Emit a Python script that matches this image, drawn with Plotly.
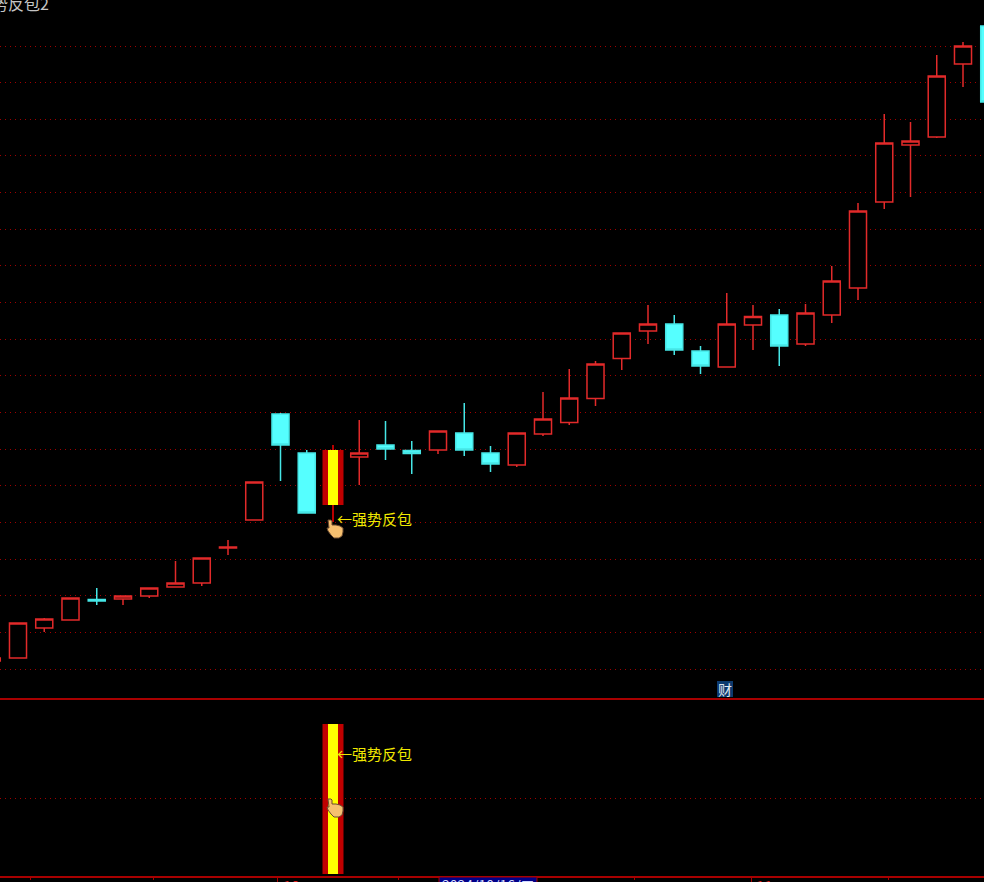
import plotly.graph_objects as go

dates = ["2024-09-12","2024-09-13","2024-09-18","2024-09-19","2024-09-20","2024-09-23","2024-09-24","2024-09-25","2024-09-26","2024-09-27","2024-09-30",
         "2024-10-08","2024-10-09","2024-10-10","2024-10-11","2024-10-14","2024-10-15","2024-10-16","2024-10-17","2024-10-18",
         "2024-10-21","2024-10-22","2024-10-23","2024-10-24","2024-10-25","2024-10-28","2024-10-29","2024-10-30","2024-10-31",
         "2024-11-01","2024-11-04","2024-11-05","2024-11-06","2024-11-07","2024-11-08","2024-11-11","2024-11-12","2024-11-13","2024-11-14"]
open_ = [39,42,72,80,100.5,101,104,113,117,152,180,286,247,None,243,255,249.5,250,267,247,235,266,277.5,301.5,341.5,369,376,349,333,375,385,356,385,412,498,555,563,636,674]
high = [42,77,82,102,112,104,112,139,142,160,218,287,250,None,280,279,259,269,297,254,267,308,331,339,367,395,385,354,407,395,391,396,434,497,586,578,645,658,674]
low = [39,42,68,80,95,95,102,113,114,145,180,219,187,None,215,240,226,246,244,228,233,264,275,294,330,356,345,326,333,350,334,354,377,400,491,503,562,613,598]
close = [42,77,81,102,99,104,112,117,142,153,218,255,187,None,247,251,246.5,269,250,236,267,281,302,336,367,376,350,334,376,383.5,354,387,419,489,557,559,624,654,598]

signal_index = [13]
signal_body_low = [195]
signal_body_high = [250]
signal_wick_low = [178]
signal_wick_high = [255]
lower_signal_low = [2]
lower_signal_high = [152]

main_grid = [654,617.4,580.7,544.1,507.4,470.8,434.1,397.5,360.8,324.2,287.5,250.9,214.2,177.6,141,104.3,67.7,31]
lower_grid = [78]
minor_ticks = [1.457,6.18,15.48,24.47,34.18]
month_ticks = [10.9,28.96]
month_labels = ["10","11"]

RED = "#e22a2a"
DARK = "#a80808"
CYAN = "#55ffff"
YELLOW = "#ffff00"
GRID = dict(gridcolor="#a00000", griddash="1px,4px", gridwidth=1)
x = list(range(len(dates)))

fig = go.Figure()
fig.add_trace(go.Bar(x=signal_index, y=[signal_wick_high[0]-signal_wick_low[0]], base=signal_wick_low, width=0.07, marker=dict(color="#b80000", line_width=0), yaxis="y"))
fig.add_trace(go.Bar(x=signal_index, y=[signal_body_high[0]-signal_body_low[0]], base=signal_body_low, width=0.8, marker=dict(color="#c00000", line_width=0), yaxis="y"))
fig.add_trace(go.Bar(x=signal_index, y=[signal_body_high[0]-signal_body_low[0]], base=signal_body_low, width=0.38, marker=dict(color=YELLOW, line_width=0), yaxis="y"))
fig.add_trace(go.Bar(x=signal_index, y=[lower_signal_high[0]-lower_signal_low[0]], base=lower_signal_low, width=0.8, marker=dict(color="#c00000", line_width=0), xaxis="x", yaxis="y2"))
fig.add_trace(go.Bar(x=signal_index, y=[lower_signal_high[0]-lower_signal_low[0]], base=lower_signal_low, width=0.38, marker=dict(color=YELLOW, line_width=0), xaxis="x", yaxis="y2"))
fig.add_trace(go.Candlestick(
    x=x, open=open_, high=high, low=low, close=close, text=dates, whiskerwidth=0,
    increasing=dict(line=dict(color=RED, width=1.5), fillcolor="#000000"),
    decreasing=dict(line=dict(color="#46e6e6", width=1.5), fillcolor=CYAN),
    yaxis="y"))


def hand(cx, cy):
    return dict(type="path", xref="x", yref="paper", xsizemode="pixel", ysizemode="pixel",
                xanchor=(cx + 8.25) / 26.25, yanchor=(882 - cy) / 882,
                path="M-7,9 L-4,9 L-3,8 L-3,4 L1,4 L5,3 L8,1 L8,-3 L7,-7 L4,-9 L-1,-9 L-4,-6 L-7,-2 L-8,1 L-6,1 Z",
                fillcolor="#f6c070", line=dict(color="#6a4a30", width=1), layer="above")


def rect(x0, x1, y0, y1, fill, border=None):
    return dict(type="rect", xref="paper", yref="paper", x0=x0/984, x1=x1/984, y0=(882-y1)/882, y1=(882-y0)/882,
                fillcolor=fill, line=dict(color=border or fill, width=1 if border else 0), layer="above")


fig.update_layout(
    width=984, height=882, margin=dict(l=0, r=0, t=0, b=0),
    paper_bgcolor="#000000", plot_bgcolor="#000000", showlegend=False,
    barmode="overlay", boxgap=0.35, boxgroupgap=0,
    font=dict(family="Noto Sans CJK SC", color="#ffff00"),
    xaxis=dict(range=[0.3143, 37.8], anchor="y2", rangeslider=dict(visible=False), showgrid=False, zeroline=False,
               showline=True, linecolor="#a80000", linewidth=1.5, mirror=True,
               tickmode="array", tickvals=month_ticks, ticktext=["", ""], ticks="outside", ticklen=6, tickcolor="#a80000", tickwidth=1,
               minor=dict(tickmode="array", tickvals=minor_ticks, ticks="outside", ticklen=3, tickcolor="#a80000", tickwidth=1)),
    yaxis=dict(domain=[(882-700)/882, 1], range=[0, 700], tickmode="array", tickvals=main_grid, showticklabels=False, ticks="",
               showgrid=True, zeroline=False, **GRID),
    yaxis2=dict(domain=[(882-875.5)/882, (882-700)/882], range=[0.5, 176], tickmode="array", tickvals=lower_grid, showticklabels=False, ticks="",
                showgrid=True, zeroline=False, **GRID),
    shapes=[hand(335, 529), hand(335, 808),
            rect(717, 733, 681, 697, "#0c3a6e"),
            rect(439, 537, 877, 884, "#000088", "#a80000")],
    annotations=[
        dict(text="强势反包2", x=51/984, y=1, xref="paper", yref="paper", xanchor="right", yanchor="middle", yshift=-3, showarrow=False,
             font=dict(size=16, color="#c4c4c4")),
        dict(text="←强势反包", x=13, y=180, xref="x", yref="y", xanchor="left", yanchor="middle", xshift=2, yshift=2, showarrow=False,
             font=dict(size=15, color="#f0e800")),
        dict(text="←强势反包", x=13, y=121, xref="x", yref="y2", xanchor="left", yanchor="middle", xshift=2, yshift=2, showarrow=False,
             font=dict(size=15, color="#f0e800")),
        dict(text="财", x=725/984, y=(882-689)/882, xref="paper", yref="paper", xanchor="center", yanchor="middle", showarrow=False,
             font=dict(size=14, color="#e0e8f0"), borderpad=0),
        dict(text=month_labels[0], x=282/984, y=8/882, xref="paper", yref="paper", xanchor="left", yanchor="top", showarrow=False,
             font=dict(size=15, color="#e02020"), borderpad=0),
        dict(text=month_labels[1], x=755/984, y=8/882, xref="paper", yref="paper", xanchor="left", yanchor="top", showarrow=False,
             font=dict(size=15, color="#e02020"), borderpad=0),
        dict(text="2024/10/16/三", x=441/984, y=8/882, xref="paper", yref="paper", xanchor="left", yanchor="top", showarrow=False,
             borderpad=0, font=dict(size=14, color="#d0d8ff")),
    ],
)
fig.write_html("out.html", config=dict(displayModeBar=False), post_script="document.body.style.margin='0';document.body.style.background='#000';")
